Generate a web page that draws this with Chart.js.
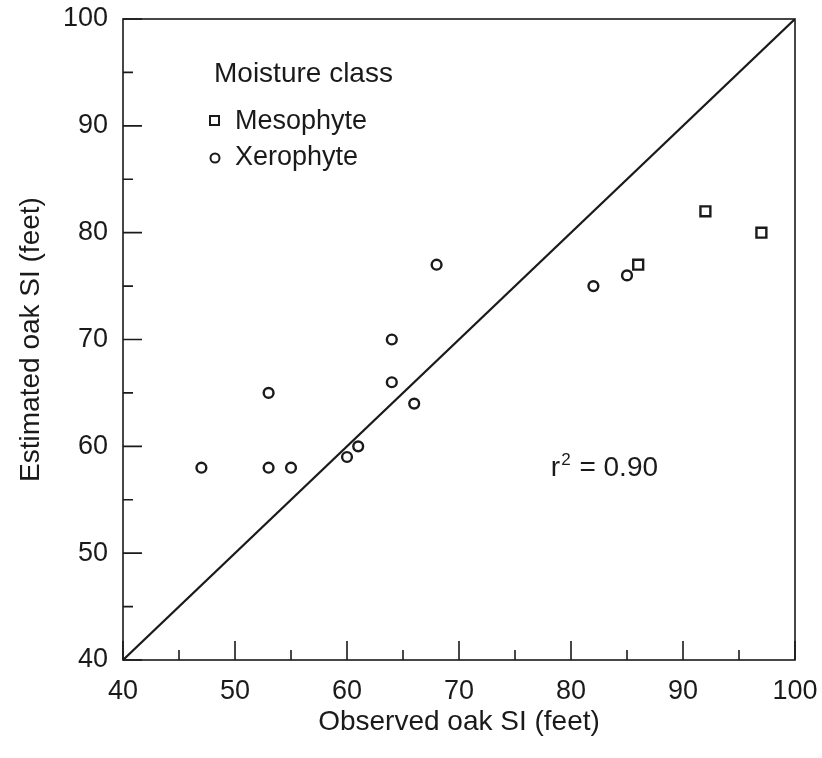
<!DOCTYPE html>
<html>
<head>
<meta charset="UTF-8">
<title>Observed vs estimated oak SI</title>
<script src="https://cdn.jsdelivr.net/npm/chart.js"></script>
<style>
  body { margin: 0; background: #fff; }
</style>
</head>
<body>
<canvas id="siChart" width="822" height="758"></canvas>

<script>
    // observed / estimated site index (feet)
    const mesoObserved = [86, 92, 97];
    const mesoEstimated = [77, 82, 80];
    const xeroObserved = [47, 53, 53, 55, 60, 61, 64, 64, 66, 68, 82, 85];
    const xeroEstimated = [58, 65, 58, 58, 59, 60, 70, 66, 64, 77, 75, 76];
    const oneToOne = [40, 100];
    const majorTicks = [40, 50, 60, 70, 80, 90, 100];
    const minorTicks = [45, 55, 65, 75, 85, 95];

    const ink = '#1a1a1a';
    const font = 'Liberation Sans, Arial, Helvetica, sans-serif';

    function toPoints(xs, ys) {
        return xs.map((x, i) => ({ x: x, y: ys[i] }));
    }

    // box, inward ticks, legend and r2 note
    const frame = {
        id: 'frame',
        afterDatasetsDraw(chart) {
            const ctx = chart.ctx;
            const a = chart.chartArea;
            const xs = chart.scales.x, ys = chart.scales.y;
            ctx.save();
            ctx.strokeStyle = ink;
            ctx.lineWidth = 1.6;
            ctx.strokeRect(a.left, a.top, a.right - a.left, a.bottom - a.top);

            ctx.beginPath();
            majorTicks.forEach(v => {
                const px = xs.getPixelForValue(v);
                ctx.moveTo(px, a.bottom); ctx.lineTo(px, a.bottom - 19);
                const py = ys.getPixelForValue(v);
                ctx.moveTo(a.left, py); ctx.lineTo(a.left + 19, py);
            });
            minorTicks.forEach(v => {
                const px = xs.getPixelForValue(v);
                ctx.moveTo(px, a.bottom); ctx.lineTo(px, a.bottom - 10);
                const py = ys.getPixelForValue(v);
                ctx.moveTo(a.left, py); ctx.lineTo(a.left + 10, py);
            });
            ctx.stroke();

            // legend
            ctx.fillStyle = ink;
            ctx.textBaseline = 'middle';
            ctx.font = '28px ' + font;
            ctx.fillText('Moisture class', a.left + 91, a.top + 55);
            ctx.font = '27px ' + font;
            ctx.fillText('Mesophyte', a.left + 112, a.top + 103);
            ctx.fillText('Xerophyte', a.left + 112, a.top + 139);
            ctx.lineWidth = 2;
            ctx.strokeRect(a.left + 87, a.top + 97, 9, 9);
            ctx.beginPath();
            ctx.arc(a.left + 92, a.top + 139, 4.5, 0, Math.PI * 2);
            ctx.stroke();

            // r2 note
            const rx = xs.getPixelForValue(78.2), ry = ys.getPixelForValue(57.9);
            ctx.font = '28px ' + font;
            ctx.fillText('r', rx, ry);
            const rw = ctx.measureText('r').width;
            ctx.font = '17px ' + font;
            ctx.fillText('2', rx + rw + 1, ry - 8);
            const sw = ctx.measureText('2').width;
            ctx.font = '28px ' + font;
            ctx.fillText(' = 0.90', rx + rw + sw + 2, ry);
            ctx.restore();
        }
    };

    new Chart(document.getElementById('siChart'), {
        type: 'scatter',
        data: {
            datasets: [
                {
                    type: 'line',
                    label: '1:1',
                    data: toPoints(oneToOne, oneToOne),
                    borderColor: ink,
                    borderWidth: 2.2,
                    pointRadius: 0,
                    fill: false
                },
                {
                    label: 'Mesophyte',
                    data: toPoints(mesoObserved, mesoEstimated),
                    pointStyle: 'rect',
                    pointRadius: 7,
                    borderColor: ink,
                    backgroundColor: '#fff',
                    borderWidth: 2.4
                },
                {
                    label: 'Xerophyte',
                    data: toPoints(xeroObserved, xeroEstimated),
                    pointStyle: 'circle',
                    pointRadius: 4.9,
                    borderColor: ink,
                    backgroundColor: '#fff',
                    borderWidth: 2.4
                }
            ]
        },
        options: {
            responsive: false,
            animation: false,
            layout: { padding: { top: 19, right: 27, left: 0, bottom: 15 } },
            plugins: {
                legend: { display: false },
                tooltip: { enabled: false }
            },
            scales: {
                x: {
                    type: 'linear',
                    min: 40, max: 100,
                    afterFit: s => { s.height = 83; s.paddingLeft = 0; s.paddingRight = 0; },
                    grid: { display: false, drawTicks: false },
                    border: { display: false },
                    ticks: { stepSize: 10, padding: 15, color: ink, font: { size: 27, family: font } },
                    title: { display: true, text: 'Observed oak SI (feet)', color: ink,
                             font: { size: 28, family: font }, padding: { top: 4, bottom: 4 } }
                },
                y: {
                    type: 'linear',
                    min: 40, max: 100,
                    afterFit: s => { s.width = 123; s.paddingTop = 0; s.paddingBottom = 0; },
                    grid: { display: false, drawTicks: false },
                    border: { display: false },
                    ticks: { stepSize: 10, padding: 15, color: ink, font: { size: 27, family: font } },
                    title: { display: true, text: 'Estimated oak SI (feet)', color: ink,
                             font: { size: 28, family: font }, padding: 14 }
                }
            }
        },
        plugins: [frame]
    });
</script>
</body>
</html>
